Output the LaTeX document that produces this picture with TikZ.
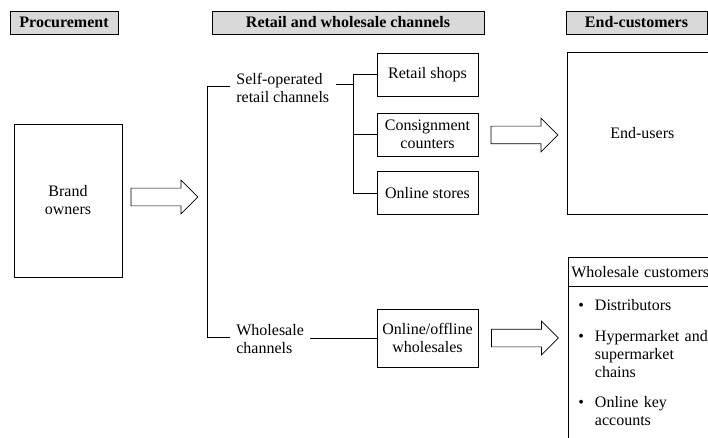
\documentclass[tikz,border=0pt]{standalone}
\usepackage{fontspec}
\setmainfont{Liberation Serif}
\usetikzlibrary{positioning,shapes.arrows}

\begin{document}
\begin{tikzpicture}[x=1pt,y=-1pt,line width=0.7pt,
    font=\fontsize{16}{18}\selectfont,
    head/.style={draw,fill=gray!30,font=\fontsize{16}{18}\selectfont\bfseries,minimum height=23,inner sep=0pt},
    box/.style={draw,align=center,inner sep=0pt},
    lab/.style={align=left,inner xsep=6pt,inner ysep=0pt},
    bigarrow/.style={draw,single arrow,minimum height=67,single arrow head extend=8,inner xsep=0pt,inner ysep=8.5pt}]
        \useasboundingbox (0,0) rectangle (708,438);
        \clip (0,0) rectangle (708,438);
        \path
        % headers
        (64,22.5) node[head,minimum width=108](hproc) {Procurement}
        (348,22.5) node[head,minimum width=272](hchan) {Retail and wholesale channels}
        (636.5,22.5) node[head,minimum width=141](hcust) {End-customers}

        % left
        (68,200.5) node[box,minimum width=108,minimum height=153](brand) {Brand\\owners}
        (160,197) node[bigarrow](arr1) {}

        % middle
        (230,103) node[lab,anchor=base west](selfop) {Self-operated\\retail channels}
        (230,353) node[lab,anchor=base west](whch) {Wholesale\\channels}

        (427.5,74.5) node[box,minimum width=101,minimum height=43](rshop) {Retail shops}
        (427.5,134.5) node[box,minimum width=101,minimum height=43](cons) {Consignment\\counters}
        (427.5,193) node[box,minimum width=101,minimum height=43](ostore) {Online stores}
        (427.5,338) node[box,minimum width=101,minimum height=58](whol) {Online/offline\\wholesales}

        (520,135) node[bigarrow](arr2) {}
        (520.5,338) node[bigarrow](arr3) {}

        % right
        (567,52) node[box,anchor=north west,minimum width=150,minimum height=162](endu) {End-users}
        (568,257) node[draw,anchor=north west,minimum width=150,minimum height=29,
            text width=144,align=left,inner xsep=3pt,inner ysep=0pt](wcust) {Wholesale customers}
        (568,286) node[draw,anchor=north west,text width=142,align=left,
            inner xsep=4pt,inner ysep=12pt](wlist) {%
            \begin{tabular}{@{\hspace{6pt}}l@{\hspace{11pt}}l@{}}
            \textbullet & Distributors\\[13pt]
            \textbullet & Hypermarket and\\
                        & supermarket\\
                        & chains\\[12pt]
            \textbullet & Online key\\
                        & accounts
            \end{tabular}}
        ;

        \coordinate (brtop) at (207,86);
        \coordinate (brbot) at (207,337);
        \coordinate (sojn) at (353,84);

        \draw (selfop.west |- brtop) -- (brtop) -- (brbot) -- (whch.west |- brbot);
        \draw (selfop.east |- sojn) -- (sojn);
        \draw (rshop.west) -| (sojn);
        \draw (ostore.west) -| (sojn);
        \draw (cons.west) -- (cons.west -| sojn);
        \draw (whol.west -| whch.east) -- (whol.west);
      \end{tikzpicture}
\end{document}
